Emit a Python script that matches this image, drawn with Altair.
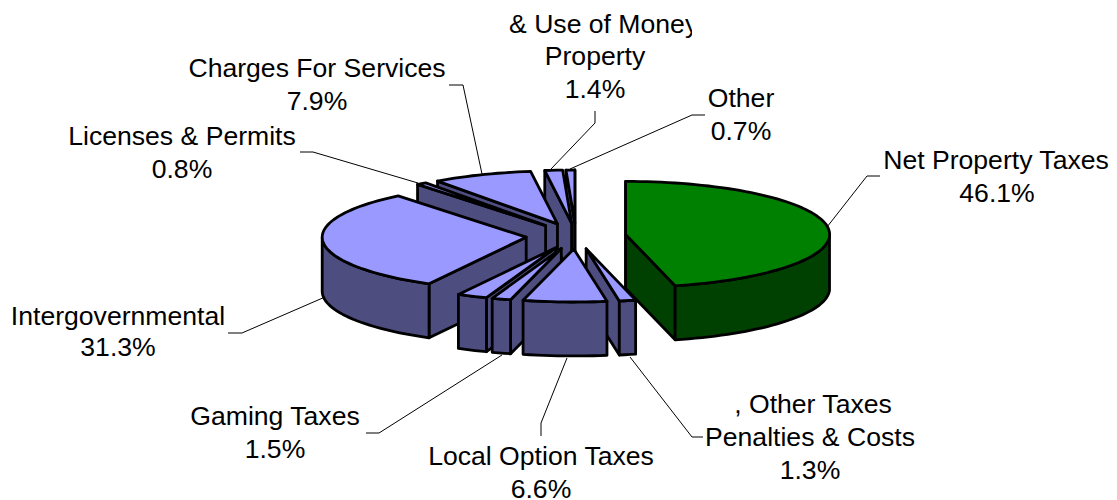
import math
import altair as alt

# ---- values (percent, clockwise from 12 o'clock) ----
slice_names = ["Net Property Taxes", "Other Taxes", "Local Option Taxes", "Gaming Taxes", "Unlabelled",
               "Intergovernmental", "Licenses & Permits", "Charges For Services", "Use of Money", "Other"]
slice_shares = [46.1, 1.3, 6.6, 1.5, 2.4, 31.3, 0.8, 7.9, 1.4, 0.7]
slice_tops = ["#008000"] + ["#9999FF"] * 9
slice_sides = ["#004000"] + ["#4D4D80"] * 9

label_texts = ["Net Property Taxes", "46.1%", "Other", "0.7%", "Property", "1.4%",
               "Charges For Services", "7.9%", "Licenses & Permits", "0.8%",
               "Intergovernmental", "31.3%", "Gaming Taxes", "1.5%",
               "Local Option Taxes", "6.6%", ", Other Taxes", "Penalties & Costs", "1.3%"]
label_x = [996, 997, 741, 741, 595, 595, 317, 317, 182, 182, 118, 118, 275, 275, 541, 541, 813, 810, 810]
label_y = [161, 194, 99, 132, 57, 90, 69, 102, 137, 170, 317, 348, 417, 450, 457, 490, 405, 438, 471]

leaders = [
    [(827, 227), (867, 176), (880, 176)],
    [(570, 169), (692, 115), (705, 115)],
    [(551, 169), (595, 123), (595, 111)],
    [(482, 174), (463, 85), (449, 85)],
    [(418, 183), (313, 152), (300, 152)],
    [(325, 297), (242, 333), (228, 333)],
    [(502, 355), (379, 433), (366, 433)],
    [(567, 358), (541, 423), (541, 436)],
    [(630, 357), (692, 437), (703, 437)],
]

CX, CY, RX, RY, EXPLODE, DEPTH = 576, 236, 204, 53, 50, 54
W, H = 1101, 492


def pt(cx, cy, deg):
    t = math.radians(deg)
    return (cx + RX * math.sin(t), cy - RY * math.cos(t))


def feature(coords, fill):
    ring = [list(p) for p in coords] + [list(coords[0])]
    return {"type": "Feature", "geometry": {"type": "Polygon", "coordinates": [ring]},
            "properties": {"fill": fill}}


def down(p):
    return (p[0], p[1] + DEPTH)


slices, start = [], 0.0
for share, top, side in zip(slice_shares, slice_tops, slice_sides):
    a0, a1 = start * 3.6, (start + share) * 3.6
    slices.append((a0, a1, top, side))
    start += share
slices.sort(key=lambda s: -math.cos(math.radians((s[0] + s[1]) / 2)))

features = []
for a0, a1, top, side in slices:
    mid = math.radians((a0 + a1) / 2)
    px = CX + EXPLODE * math.sin(mid)
    py = CY - EXPLODE * math.cos(mid) * RY / RX
    apex = (px, py)
    n = max(2, int((a1 - a0) / 2) + 1)
    angles = [a0 + (a1 - a0) * i / n for i in range(n + 1)]
    arc = [pt(px, py, a) for a in angles]
    if math.sin(math.radians(a0)) < 1e-9:
        features.append(feature([apex, arc[0], down(arc[0]), down(apex)], side))
    if math.sin(math.radians(a1)) > -1e-9:
        features.append(feature([apex, arc[-1], down(arc[-1]), down(apex)], side))
    front = [p for a, p in zip(angles, arc) if math.cos(math.radians(a)) < 0]
    if len(front) > 1:
        features.append(feature(front + [down(p) for p in reversed(front)], side))
    features.append(feature([apex] + arc, top))

x_scale = alt.Scale(domain=[8, 8 + W], range=[0, W])
y_scale = alt.Scale(domain=[8, 8 + H], range=[0, H])
X = alt.X("x:Q", scale=x_scale, axis=None)
Y = alt.Y("y:Q", scale=y_scale, axis=None)

leader_rows = [{"id": i, "k": k, "x": p[0], "y": p[1]} for i, line in enumerate(leaders) for k, p in enumerate(line)]
leader_layer = alt.Chart(alt.Data(values=leader_rows)).mark_line(color="black", strokeWidth=1).encode(
    x=X, y=Y, detail="id:N", order="k:Q")

pie = alt.Chart(alt.Data(values=features)).mark_geoshape(
    stroke="black", strokeWidth=2.8, strokeJoin="round").encode(
    fill=alt.Fill("properties.fill:N", scale=None)
).project(type="identity", scale=1, translate=[-8, -8])

font = dict(font="Liberation Sans", fontSize=26.6, color="black", baseline="middle")
label_rows = [{"t": t, "x": x, "y": y} for t, x, y in zip(label_texts, label_x, label_y)]
labels = alt.Chart(alt.Data(values=label_rows)).mark_text(align="center", **font).encode(x=X, y=Y, text="t:N")

clipped = alt.Chart(alt.Data(values=[{"t": "& Use of Money", "x": 509, "y": 25}])).mark_text(align="left", **font).encode(
    x=X, y=Y, text="t:N")
clip_box = alt.Chart(alt.Data(values=[{"x": 692, "x2": 725, "y": 6, "y2": 42}])).mark_rect(color="white").encode(
    x=X, x2="x2:Q", y=Y, y2="y2:Q")

chart = alt.layer(leader_layer, pie, clipped, clip_box, labels).properties(
    width=W, height=H, padding=0, background="white", autosize=alt.AutoSizeParams(type="none")
).configure_view(stroke=None)

chart.save("out.html", embed_options={"renderer": "svg", "actions": False})
